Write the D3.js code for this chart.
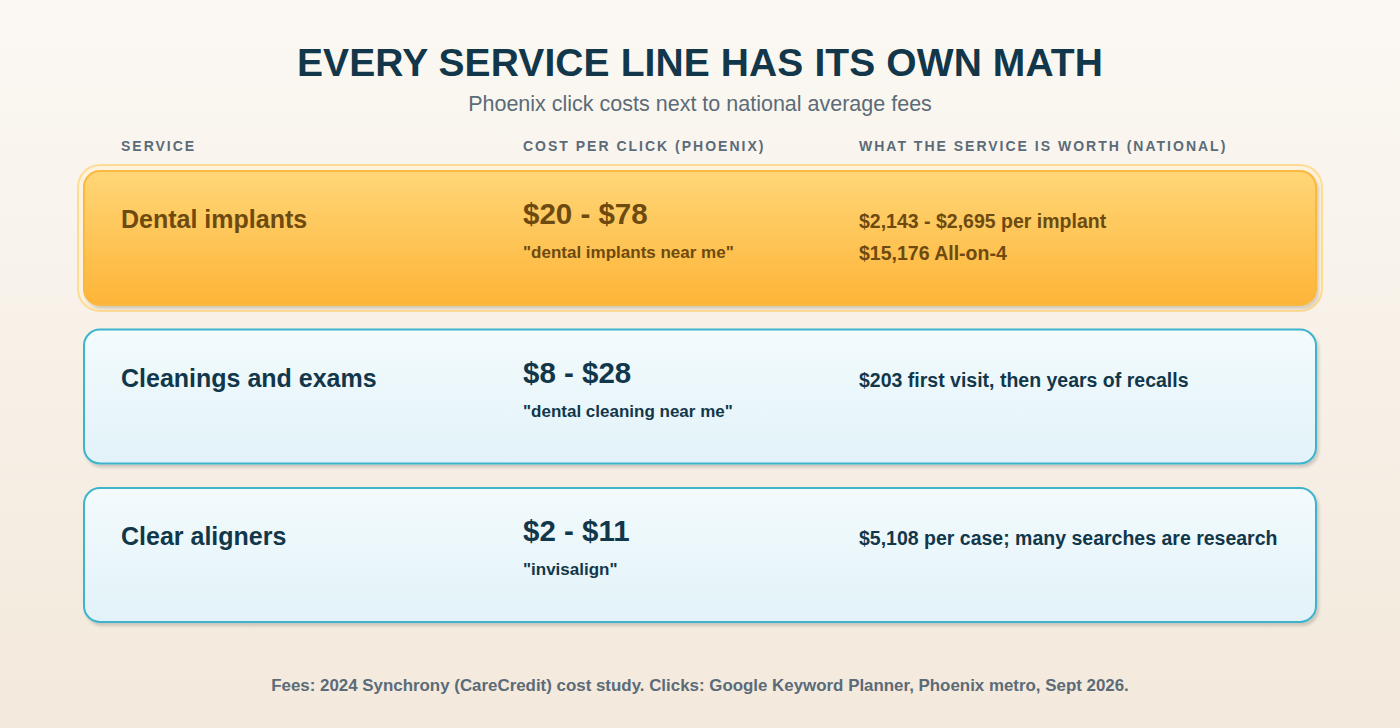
<!DOCTYPE html>
<html>
<head>
<meta charset="utf-8">
<script src="https://cdn.jsdelivr.net/npm/d3@7"></script>
<style>
  html, body { margin: 0; padding: 0; }
  body { width: 1400px; height: 728px; overflow: hidden; }
  svg { display: block; font-family: "Liberation Sans", Arial, Helvetica, sans-serif; }
</style>
</head>
<body>
<div id="chart"></div>
<script>
// data
const title = 'EVERY SERVICE LINE HAS ITS OWN MATH';
const subtitle = 'Phoenix click costs next to national average fees';
const columns = ['SERVICE', 'COST PER CLICK (PHOENIX)', 'WHAT THE SERVICE IS WORTH (NATIONAL)'];
const services = ['Dental implants', 'Cleanings and exams', 'Clear aligners'];
const cpcRanges = ['$20 - $78', '$8 - $28', '$2 - $11'];
const keywords = ['"dental implants near me"', '"dental cleaning near me"', '"invisalign"'];
const worth = [
  ['$2,143 - $2,695 per implant', '$15,176 All-on-4'],
  ['$203 first visit, then years of recalls'],
  ['$5,108 per case; many searches are research']
];
const highlighted = ['Dental implants'];
const source = 'Fees: 2024 Synchrony (CareCredit) cost study. Clicks: Google Keyword Planner, Phoenix metro, Sept 2026.';

const width = 1400, height = 728;

const svg = d3.select('#chart').append('svg')
  .attr('width', width)
  .attr('height', height);

const defs = svg.append('defs');

const bg = defs.append('linearGradient').attr('id', 'bg')
  .attr('x1', 0).attr('y1', 0).attr('x2', 0).attr('y2', 1);
bg.append('stop').attr('offset', '0%').attr('stop-color', '#fbf8f3');
bg.append('stop').attr('offset', '100%').attr('stop-color', '#f3e9dc');

const gold = defs.append('linearGradient').attr('id', 'gold')
  .attr('x1', 0).attr('y1', 0).attr('x2', 0).attr('y2', 1);
gold.append('stop').attr('offset', '0%').attr('stop-color', '#ffd677');
gold.append('stop').attr('offset', '100%').attr('stop-color', '#fdb538');

const ice = defs.append('linearGradient').attr('id', 'ice')
  .attr('x1', 0).attr('y1', 0).attr('x2', 0).attr('y2', 1);
ice.append('stop').attr('offset', '0%').attr('stop-color', '#f3fbfd');
ice.append('stop').attr('offset', '100%').attr('stop-color', '#e2f2f8');

defs.append('filter').attr('id', 'shadow')
  .attr('x', '-5%').attr('y', '-10%').attr('width', '110%').attr('height', '130%')
  .append('feDropShadow')
  .attr('dx', 2).attr('dy', 3).attr('stdDeviation', 1.5)
  .attr('flood-color', '#000').attr('flood-opacity', 0.16);

svg.append('rect')
  .attr('width', width).attr('height', height)
  .attr('fill', 'url(#bg)');

// title block
svg.append('text')
  .attr('x', width / 2).attr('y', 76)
  .attr('text-anchor', 'middle')
  .attr('font-size', 39).attr('font-weight', 700)
  .attr('letter-spacing', 0.1)
  .attr('fill', '#12374a')
  .text(title);

svg.append('text')
  .attr('x', width / 2).attr('y', 111)
  .attr('text-anchor', 'middle')
  .attr('font-size', 21.5)
  .attr('fill', '#5b6b77')
  .text(subtitle);

// layout scales
const x = d3.scaleOrdinal().domain(columns).range([121, 523, 859]);
const y = d3.scaleBand().domain(services).range([171, 622]).paddingInner(0.1546);
const cardX0 = 84, cardX1 = 1316;

svg.append('g').selectAll('text')
  .data(columns)
  .join('text')
  .attr('x', d => x(d)).attr('y', 151)
  .attr('font-size', 14).attr('font-weight', 700)
  .attr('letter-spacing', 2)
  .attr('fill', '#5b6b78')
  .text(d => d);

const rows = services.map((s, i) => ({
  service: s,
  cpc: cpcRanges[i],
  keyword: keywords[i],
  worth: worth[i],
  hot: highlighted.includes(s)
}));

const card = svg.append('g').selectAll('g')
  .data(rows)
  .join('g')
  .attr('transform', d => `translate(0,${y(d.service)})`);

// outer glow ring on the highlighted row
card.filter(d => d.hot).append('rect')
  .attr('x', cardX0 - 6).attr('y', -6)
  .attr('width', cardX1 - cardX0 + 12).attr('height', y.bandwidth() + 12)
  .attr('rx', 22)
  .attr('fill', '#fdf2de')
  .attr('stroke', '#ffdc96').attr('stroke-width', 2);

card.append('rect')
  .attr('x', cardX0).attr('y', 0)
  .attr('width', cardX1 - cardX0).attr('height', y.bandwidth())
  .attr('rx', 16)
  .attr('fill', d => d.hot ? 'url(#gold)' : 'url(#ice)')
  .attr('stroke', d => d.hot ? '#f9b840' : '#3db4cc')
  .attr('stroke-width', 2)
  .attr('filter', 'url(#shadow)');

const ink = d => d.hot ? '#6d4a10' : '#12374a';

card.append('text')
  .attr('x', x(columns[0])).attr('y', 57)
  .attr('font-size', 25).attr('font-weight', 700)
  .attr('fill', ink)
  .text(d => d.service);

card.append('text')
  .attr('x', x(columns[1])).attr('y', 53)
  .attr('font-size', 29.5).attr('font-weight', 700)
  .attr('fill', ink)
  .text(d => d.cpc);

card.append('text')
  .attr('x', x(columns[1])).attr('y', 87)
  .attr('font-size', 17).attr('font-weight', 700)
  .attr('fill', ink)
  .text(d => d.keyword);

card.selectAll('text.worth')
  .data(d => d.worth.map(t => ({ t, hot: d.hot })))
  .join('text')
  .attr('class', 'worth')
  .attr('x', x(columns[2]))
  .attr('y', (d, i) => 57 + i * 32)
  .attr('font-size', 19.5).attr('font-weight', 700)
  .attr('fill', ink)
  .text(d => d.t);

svg.append('text')
  .attr('x', width / 2).attr('y', 691)
  .attr('text-anchor', 'middle')
  .attr('font-size', 16.9).attr('font-weight', 700)
  .attr('fill', '#5b6b78')
  .text(source);
</script>
</body>
</html>
